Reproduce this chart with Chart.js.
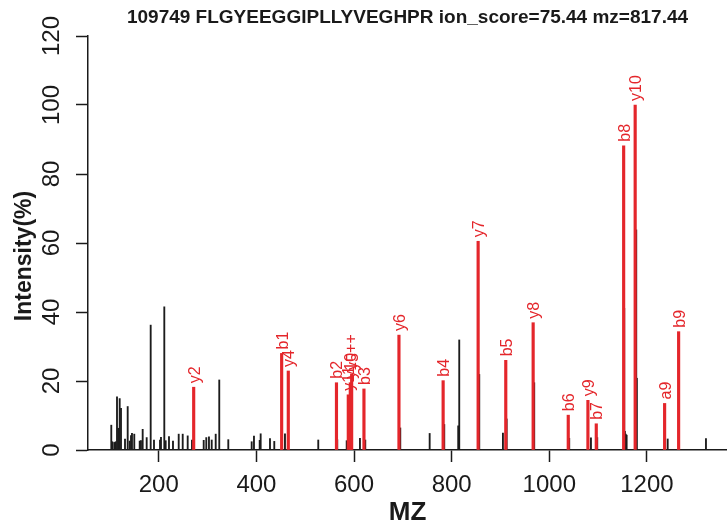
<!DOCTYPE html>
<html>
<head>
<meta charset="utf-8">
<script src="https://cdn.jsdelivr.net/npm/chart.js@4.4.1/dist/chart.umd.min.js"></script>
<style>
  body { margin: 0; background: #fff; }
  #wrap { width: 727px; height: 527px; }
</style>
</head>
<body>
<div id="wrap"><canvas id="spec" width="727" height="527"></canvas></div>
<script>
// all peaks (m/z, relative intensity %)
var peak_mz = [102.7, 104.8, 108.8, 111.7, 114.4, 117.0, 119.9, 122.6, 130.8, 136.3,
    140.4, 143.1, 145.1, 149.8, 160.9, 163.5, 167.0, 175.2, 183.4, 190.2,
    202.5, 204.5, 211.3, 214.1, 220.9, 229.1, 240.8, 249.0, 259.2, 268.0,
    292.0, 297.3, 302.8, 308.4, 316.6, 323.9, 342.4, 390.3, 395.0, 406.7,
    408.7, 427.8, 436.6, 458.5, 526.7, 565.6, 584.9, 612.1, 623.0, 694.7,
    754.9, 784.8, 813.4, 815.5, 856.5, 905.0, 912.6, 969.1, 1040.8, 1085.3,
    1098.2, 1153.5, 1154.9, 1156.6, 1158.4, 1178.1, 1179.3, 1237.0, 1242.5, 1265.6,
    1320.9];
var peak_int = [7.2, 2.4, 2.2, 2.4, 15.4, 6.3, 14.9, 12.1, 3.2, 12.6,
    2.6, 4.2, 4.8, 4.6, 2.6, 2.7, 6.0, 3.6, 36.2, 2.9,
    2.9, 3.7, 41.5, 2.7, 3.9, 2.6, 4.6, 4.6, 4.1, 2.9,
    2.8, 3.6, 3.8, 2.9, 4.6, 20.3, 3.0, 2.4, 4.0, 2.8,
    4.7, 3.3, 2.5, 4.7, 2.9, 3.0, 2.7, 3.4, 2.9, 6.4,
    4.8, 7.4, 7.0, 31.9, 21.9, 4.9, 9.0, 19.5, 3.4, 3.5,
    3.6, 41.1, 5.4, 4.6, 4.3, 63.8, 20.8, 5.8, 3.2, 22.7,
    3.3];

// matched fragment ions
var ion_labels = ["y2", "b1", "y4", "b2", "y11", "y10++", "y5", "b3", "y6", "b4",
    "y7", "b5", "y8", "b6", "y9", "b7", "b8", "y10", "a9", "b9"];
var ion_mz = [271.5, 451.7, 465.3, 564.0, 588.2, 592.3, 595.1, 620.3, 692.0, 782.5,
    854.2, 910.8, 966.9, 1038.8, 1079.1, 1096.2, 1152.3, 1175.9, 1236.2, 1264.9];
var ion_int = [18.2, 28.0, 22.9, 19.5, 16.0, 19.5, 22.0, 17.7, 33.3, 20.1,
    60.5, 26.0, 36.9, 10.1, 14.4, 7.6, 88.2, 100, 13.5, 34.3];

var x_ticks = [200, 400, 600, 800, 1000, 1200];
var y_ticks = [0, 20, 40, 60, 80, 100, 120];

var title_text = "109749 FLGYEEGGIPLLYVEGHPR ion_score=75.44 mz=817.44";
var y_title = "Intensity(%)";
var FONT = "'Liberation Sans', Arial, Helvetica, sans-serif";
var RED = "#e4262b";
var INK = "#1a1a1a";

var black_pts = peak_mz.map(function(m, i) { return { x: m, y: peak_int[i] }; });
var red_pts = ion_mz.map(function(m, i) { return { x: m, y: ion_int[i] }; });

// red rotated labels above each matched ion
var ionLabelPlugin = {
    id: "ionLabels",
    afterDatasetsDraw: function(chart) {
        var ctx = chart.ctx;
        var xs = chart.scales.x, ys = chart.scales.y;
        ctx.save();
        ctx.fillStyle = RED;
        ctx.font = "16px " + FONT;
        ctx.textAlign = "left";
        ctx.textBaseline = "middle";
        for (let i = 0; i < ion_labels.length; i++) {
            var px = xs.getPixelForValue(ion_mz[i]);
            var py = ys.getPixelForValue(ion_int[i]);
            ctx.save();
            ctx.translate(px + 1.5, py - 4);
            ctx.rotate(-Math.PI / 2);
            ctx.fillText(ion_labels[i], 0, 0);
            ctx.restore();
        }
        ctx.restore();
    }
};

// y tick labels and y title drawn parallel to the axis, R style
var yLabelPlugin = {
    id: "yLabels",
    afterDraw: function(chart) {
        var ctx = chart.ctx;
        var ys = chart.scales.y;
        ctx.save();
        ctx.fillStyle = INK;
        ctx.font = "24px " + FONT;
        ctx.textAlign = "center";
        ctx.textBaseline = "middle";
        for (let i = 0; i < y_ticks.length; i++) {
            var py = ys.getPixelForValue(y_ticks[i]);
            ctx.save();
            ctx.translate(52, py);
            ctx.rotate(-Math.PI / 2);
            ctx.fillText(String(y_ticks[i]), 0, 0);
            ctx.restore();
        }
        ctx.font = "bold 23px " + FONT;
        ctx.translate(25, 256);
        ctx.rotate(-Math.PI / 2);
        ctx.fillText(y_title, 0, 0);
        ctx.restore();
    }
};

const ctx = document.getElementById("spec").getContext("2d");
const myChart = new Chart(ctx, {
    type: "bar",
    data: {
        datasets: [{
            label: "peaks",
            data: black_pts,
            backgroundColor: "#1c1c1c",
            barThickness: 1.2,
            grouped: false,
            order: 2,
        }, {
            label: "ions",
            data: red_pts,
            backgroundColor: RED,
            barThickness: 2.5,
            grouped: false,
            order: 1,
        }],
    },
    options: {
        responsive: false,
        animation: false,
        layout: { padding: { left: 0, right: 0, top: 0, bottom: 0 } },
        plugins: {
            legend: { display: false },
            tooltip: { enabled: false },
            title: {
                display: true,
                text: title_text,
                fullSize: false,
                color: INK,
                font: { family: FONT, size: 19, weight: "bold", lineHeight: 1.0 },
                padding: { top: 8.5, bottom: 8.5 },
            },
        },
        scales: {
            x: {
                type: "linear",
                min: 55,
                max: 1364,
                offset: false,
                afterBuildTicks: function(scale) {
                    scale.ticks = x_ticks.map(function(v) { return { value: v }; });
                },
                afterFit: function(scale) { scale.height = 77; },
                grid: {
                    display: true,
                    offset: false,
                    drawOnChartArea: false,
                    drawTicks: true,
                    tickLength: 12,
                    tickWidth: 1.5,
                    tickColor: INK,
                },
                border: { display: true, color: INK, width: 1.5 },
                ticks: {
                    color: INK,
                    font: { family: FONT, size: 24 },
                    padding: 9,
                    maxRotation: 0,
                    autoSkip: false,
                    callback: function(v) { return String(v); },
                },
                title: {
                    display: true,
                    text: "MZ",
                    color: INK,
                    font: { family: FONT, size: 26, weight: "bold", lineHeight: 1.0 },
                    padding: { top: 0, bottom: 1 },
                },
            },
            y: {
                min: 0,
                max: 120,
                afterBuildTicks: function(scale) {
                    scale.ticks = y_ticks.map(function(v) { return { value: v }; });
                },
                afterFit: function(scale) { scale.width = 88; },
                grid: {
                    display: true,
                    offset: false,
                    drawOnChartArea: false,
                    drawTicks: true,
                    tickLength: 12,
                    tickWidth: 1.5,
                    tickColor: INK,
                },
                border: { display: true, color: INK, width: 1.5 },
                ticks: { display: false },
                title: { display: false },
            },
        },
    },
    plugins: [ionLabelPlugin, yLabelPlugin],
});
</script>
</body>
</html>
